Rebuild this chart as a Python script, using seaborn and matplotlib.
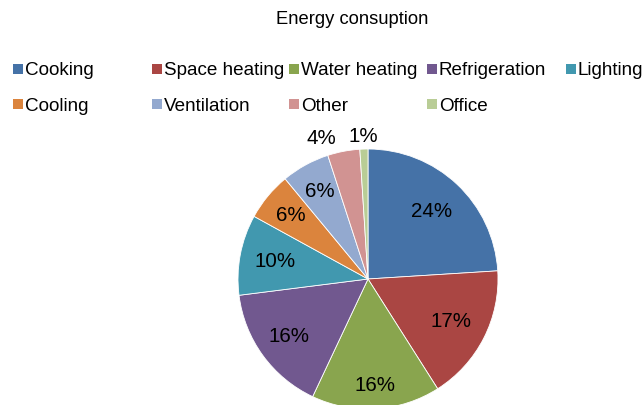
import matplotlib
matplotlib.use("Agg")
import matplotlib.pyplot as plt
from matplotlib.lines import Line2D
import seaborn as sns

# data
categories = ["Cooking", "Space heating", "Water heating", "Refrigeration", "Lighting",
              "Cooling", "Ventilation", "Other", "Office"]
shares = [24, 17, 16, 16, 10, 6, 6, 4, 1]
title = "Energy consuption"

colors = ["#4572A7", "#AA4643", "#89A54E", "#71588F", "#4198AF",
          "#DB843D", "#93A9CF", "#D19392", "#B9CD96"]
# how far from the centre each percentage label sits (fraction of radius)
label_dist = [0.71, 0.72, 0.82, 0.75, 0.73, 0.77, 0.77, 1.1, 1.1]

sns.set_theme(style="white")
plt.rcParams['font.family'] = ['Liberation Sans', 'DejaVu Sans']
plt.rcParams['text.color'] = 'black'

W, H = 644, 405
fig = plt.figure(figsize=(W / 100, H / 100), dpi=100)
ax = fig.add_axes([0, 0, 1, 1])

# pie centre (368, 279) px from top-left, radius 130 px
cx, cy, r = 368, 279, 130
wedges, texts, autotexts = ax.pie(
    shares, colors=sns.color_palette(colors), startangle=90, counterclock=False,
    radius=1, autopct='%1.0f%%', pctdistance=0.75,
    wedgeprops=dict(edgecolor='white', linewidth=0.6),
    textprops=dict(fontsize=14.8, color='black'))

for d, t in zip(label_dist, autotexts):
    x, y = t.get_position()
    t.set_position((x / 0.75 * d, y / 0.75 * d))
    if d > 1 and x / 0.75 * d < -0.1:
        # push the left one of the two tiny labels aside, like Excel does
        t.set_ha('right')
        t.set_position((x / 0.75 * d - 0.04, y / 0.75 * d))

ax.set_aspect('auto')
ax.set_xlim(-cx / r, (W - cx) / r)
ax.set_ylim(-(H - cy) / r, cy / r)
ax.axis('off')

fig.text(352 / W, 1 - 19 / H, title, ha='center', va='center', fontsize=13.2,
         color='black')

# legend: 5 equal-width columns, 2 rows
col_x = [13, 152, 289, 427, 566]
for j, x in enumerate(col_x):
    idx = [i for i in (j, j + 5) if i < len(categories)]
    handles = [Line2D([], [], marker='s', linestyle='none', markersize=7.2,
                      markerfacecolor=colors[i], markeredgewidth=0) for i in idx]
    fig.legend(handles, [categories[i] for i in idx], loc='upper left',
               bbox_to_anchor=(x / W, 1 - 62 / H), frameon=False, fontsize=13.6,
               handlelength=0.53, handletextpad=0.1, borderpad=0, borderaxespad=0,
               labelspacing=0.96, labelcolor='black')

fig.savefig("out.png", dpi=100)
